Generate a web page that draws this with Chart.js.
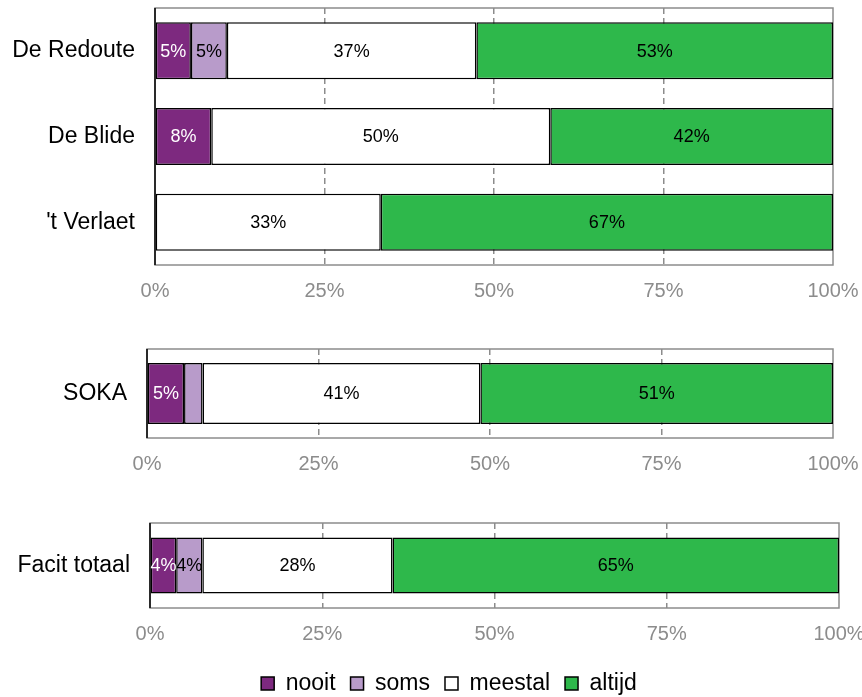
<!DOCTYPE html>
<html>
<head>
<meta charset="utf-8">
<script src="https://cdn.jsdelivr.net/npm/chart.js@4/dist/chart.umd.min.js"></script>
<style>
    html, body { margin: 0; padding: 0; background: #fff; overflow: hidden; }
    .panel { position: absolute; left: 0; width: 862px; }
</style>
</head>
<body>
<div class="panel" style="top:0;height:310px"><canvas id="chart1"></canvas></div>
<div class="panel" style="top:340px;height:140px"><canvas id="chart2"></canvas></div>
<div class="panel" style="top:510px;height:195px"><canvas id="chart3"></canvas></div>
<script>
// Series names and colours
const seriesNames = ["nooit", "soms", "meestal", "altijd"];
const seriesColors = ["#7d297f", "#b89bca", "#ffffff", "#2eb84b"];
const labelColors = ["#ffffff", "#000000", "#000000", "#000000"];

// Panel 1: the three schools
const schools = ["De Redoute", "De Blide", "'t Verlaet"];
const schoolsNooit = [5.3, 8.3, 0];
const schoolsSoms = [5.3, 0, 0];
const schoolsMeestal = [36.8, 50.0, 33.3];
const schoolsAltijd = [52.6, 41.7, 66.7];

// Panel 2: SOKA
const soka = ["SOKA"];
const sokaNooit = [5.4];
const sokaSoms = [2.7];
const sokaMeestal = [40.5];
const sokaAltijd = [51.4];

// Panel 3: Facit totaal
const facit = ["Facit totaal"];
const facitNooit = [3.8];
const facitSoms = [3.8];
const facitMeestal = [27.6];
const facitAltijd = [64.8];

// x axis ticks
const tickValues = [0, 25, 50, 75, 100];

Chart.defaults.font.family = "'Liberation Sans', Arial, sans-serif";
Chart.defaults.color = "#000";

// frame around the plot: grey box, black left axis
const framePlugin = {
    id: "frame",
    beforeDatasetsDraw(chart) {
        const { ctx, chartArea: a } = chart;
        ctx.save();
        ctx.strokeStyle = "#8c8c8c";
        ctx.lineWidth = 1.5;
        ctx.strokeRect(a.left, a.top, a.right - a.left, a.bottom - a.top);
        ctx.strokeStyle = "#000";
        ctx.beginPath();
        ctx.moveTo(a.left, a.top);
        ctx.lineTo(a.left, a.bottom);
        ctx.stroke();
        ctx.restore();
    }
};

// percentage labels inside the segments
const valueLabels = {
    id: "valueLabels",
    afterDatasetsDraw(chart) {
        const ctx = chart.ctx;
        ctx.save();
        ctx.font = "18px 'Liberation Sans', Arial, sans-serif";
        ctx.textAlign = "center";
        ctx.textBaseline = "middle";
        chart.data.datasets.forEach((ds, i) => {
            const meta = chart.getDatasetMeta(i);
            meta.data.forEach((el, j) => {
                const v = ds.data[j];
                if (v < 3) return;
                const p = el.getProps(["x", "y", "base"], true);
                ctx.fillStyle = labelColors[i];
                ctx.fillText(Math.round(v) + "%", (p.x + p.base) / 2, p.y + 1);
            });
        });
        ctx.restore();
    }
};

// move the legend so it is centred like the original
const legendShift = {
    id: "legendShift",
    afterLayout(chart, args, opts) {
        if (chart.legend && opts.left) {
            chart.legend.left = opts.left;
        }
    }
};

function makePanel(id, labels, values, opts) {
    const datasets = seriesNames.map((name, i) => ({
        label: name,
        data: values[i],
        backgroundColor: seriesColors[i],
        borderColor: "#000",
        borderWidth: 1.5,
        borderSkipped: false,
        barPercentage: opts.barPct,
        categoryPercentage: 1
    }));

    return new Chart(document.getElementById(id), {
        type: "bar",
        data: { labels: labels, datasets: datasets },
        options: {
            indexAxis: "y",
            responsive: true,
            maintainAspectRatio: false,
            animation: false,
            layout: {
                padding: { top: opts.top, left: 0, right: opts.right, bottom: 0 }
            },
            plugins: {
                legend: opts.legend ? {
                    display: true,
                    position: "bottom",
                    labels: {
                        boxWidth: 13,
                        boxHeight: 13,
                        padding: 15,
                        font: { size: 23 },
                        color: "#000"
                    }
                } : { display: false },
                legendShift: { left: opts.legendLeft || 0 },
                tooltip: { enabled: false }
            },
            scales: {
                x: {
                    stacked: true,
                    min: 0,
                    max: 100,
                    afterBuildTicks: (scale) => {
                        scale.ticks = tickValues.map(v => ({ value: v }));
                    },
                    afterFit: (scale) => {
                        scale.height = opts.axisH;
                        scale.paddingLeft = 0;
                        scale.paddingRight = 0;
                    },
                    ticks: {
                        color: "#8c8c8c",
                        font: { size: 20 },
                        padding: 14,
                        maxRotation: 0,
                        callback: (v) => v + "%"
                    },
                    grid: {
                        drawTicks: false,
                        lineWidth: 1.5,
                        color: (c) => (c.tick && (c.tick.value === 0 || c.tick.value === 100)) ? "rgba(0,0,0,0)" : "#8c8c8c"
                    },
                    border: { display: false, dash: [6, 4] }
                },
                y: {
                    stacked: true,
                    afterFit: (scale) => {
                        scale.width = opts.axisW;
                        scale.paddingTop = 0;
                        scale.paddingBottom = 0;
                    },
                    ticks: {
                        color: "#000",
                        font: { size: 23 },
                        padding: 20
                    },
                    grid: { display: false, drawTicks: false },
                    border: { display: false }
                }
            }
        },
        plugins: [framePlugin, valueLabels, legendShift]
    });
}

makePanel("chart1", schools,
    [schoolsNooit, schoolsSoms, schoolsMeestal, schoolsAltijd],
    { top: 8, right: 29, axisW: 155, axisH: 45, barPct: 0.665, legend: false });

makePanel("chart2", soka,
    [sokaNooit, sokaSoms, sokaMeestal, sokaAltijd],
    { top: 9, right: 29, axisW: 147, axisH: 42, barPct: 0.685, legend: false });

makePanel("chart3", facit,
    [facitNooit, facitSoms, facitMeestal, facitAltijd],
    { top: 13, right: 23, axisW: 150, axisH: 49, barPct: 0.66, legend: true, legendLeft: 59 });
</script>
</body>
</html>
